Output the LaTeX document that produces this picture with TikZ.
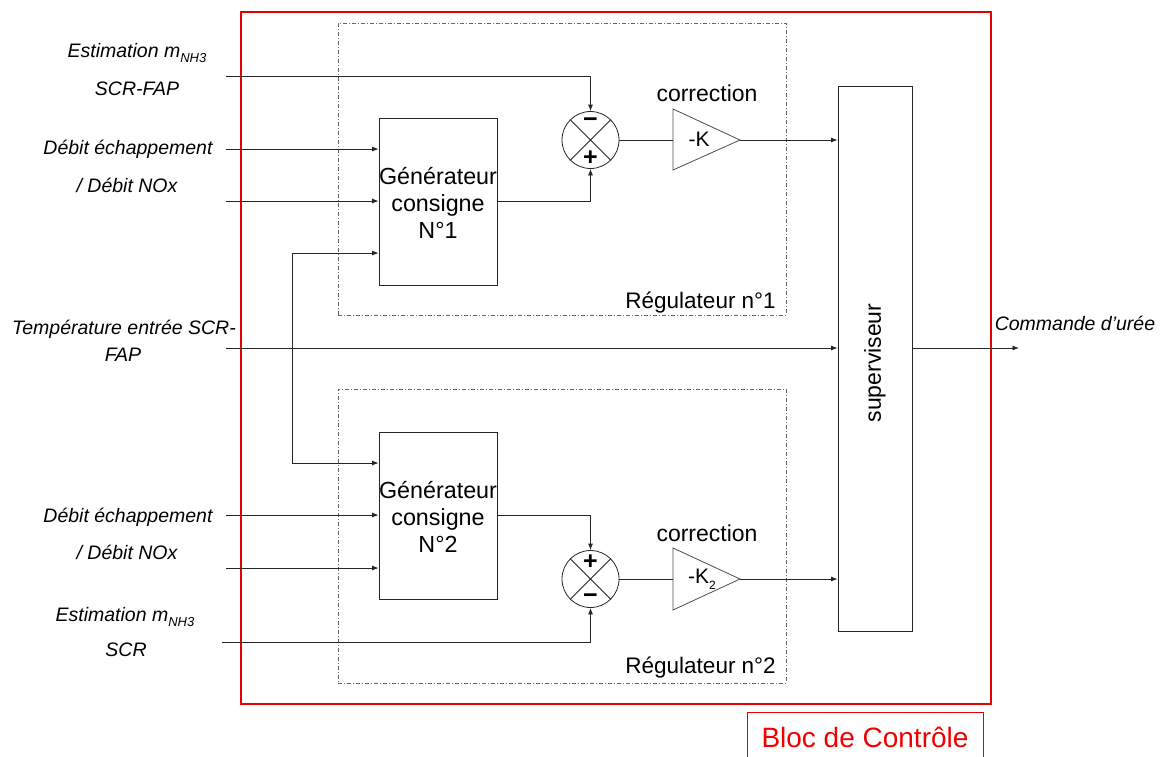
\documentclass[tikz,border=0pt]{standalone}
\usepackage{fontspec}
\setmainfont{Liberation Sans}
\usetikzlibrary{arrows.meta}
\begin{document}
\begin{tikzpicture}[x=1pt,y=-1pt,
  line/.style={draw=black!85,line width=0.8pt},
  arr/.style={line,-{Latex[length=6.5pt,width=5pt]}},
  darr/.style={line,{Latex[length=6.5pt,width=5pt]}-{Latex[length=6.5pt,width=5pt]}},
  blockbox/.style={draw=black!85,line width=0.8pt,inner sep=0pt},
  regbox/.style={draw=black!60,line width=0.7pt,dash pattern=on 4pt off 2pt on 1pt off 2pt},
  lbl/.style={inner sep=0pt,font=\fontsize{19.5}{23}\selectfont\itshape},
  txt/.style={inner sep=0pt,font=\fontsize{23}{27}\selectfont},
  sgn/.style={inner sep=0pt,font=\fontsize{25}{25}\selectfont\bfseries},
  sumj/.style={circle,draw=black!85,line width=0.8pt,minimum size=57pt,inner sep=0pt},
  gain/.style={draw=black!70,line width=0.8pt}
]
\useasboundingbox (0,0) rectangle (1165,756);

% outer control block
\node[draw=red!90!black,line width=1.5pt,minimum width=750pt,minimum height=692pt,inner sep=0pt] (bloc) at (616,358) {};
\node[draw=red!90!black,line width=1.2pt,minimum width=236pt,minimum height=60pt,inner sep=0pt,anchor=north west] (bloclbl) at (747,712) {};
\node[inner sep=0pt,text=red!95!black,font=\fontsize{28}{30}\selectfont] (bloctxt) at (865,737) {Bloc de Contrôle};

% regulator frames
\node[regbox,minimum width=448pt,minimum height=292pt,inner sep=0pt] (reg1) at (562,169) {};
\node[regbox,minimum width=448pt,minimum height=294pt,inner sep=0pt] (reg2) at (562,536) {};
\node[txt,anchor=east,font=\fontsize{22.5}{27}\selectfont] (reg1lbl) at (776,303) {Régulateur n°1};
\node[txt,anchor=east,font=\fontsize{22.5}{27}\selectfont] (reg2lbl) at (776,668) {Régulateur n°2};

% generators
\node[blockbox,minimum width=118pt,minimum height=167pt] (g1) at (438,201.5) {};
\node[txt,align=center,font=\fontsize{23.3}{27}\selectfont] (g1t) at (438,203) {Générateur\\consigne\\N°1};
\node[blockbox,minimum width=118pt,minimum height=167pt] (g2) at (438,515.5) {};
\node[txt,align=center,font=\fontsize{23.3}{27}\selectfont] (g2t) at (438,517) {Générateur\\consigne\\N°2};

% supervisor
\node[blockbox,minimum width=74pt,minimum height=545pt] (sup) at (875,358.5) {};
\node[txt,rotate=90] (supt) at (875,363) {superviseur};

% summing junctions
\node[sumj] (s1) at (590.5,140) {};
\draw[line] (s1.north west) -- (s1.south east) (s1.north east) -- (s1.south west);
\node[sgn] (s1m) at (590.5,123) {−};
\node[sgn] (s1p) at (590.5,158) {+};
\node[sumj] (s2) at (590.5,579) {};
\draw[line] (s2.north west) -- (s2.south east) (s2.north east) -- (s2.south west);
\node[sgn] (s2p) at (590.5,562) {+};
\node[sgn] (s2m) at (590.5,599) {−};

% gains
\coordinate (k1in) at (673,140);
\coordinate (k1out) at (740,140);
\draw[gain] (673,109) -- (740,140) -- (673,170) -- cycle;
\node[txt,font=\fontsize{21}{24}\selectfont] (k1) at (699,139) {-K};
\node[txt] (c1) at (707,93) {correction};
\coordinate (k2in) at (673,579);
\coordinate (k2out) at (740,579);
\draw[gain] (673,548) -- (740,579) -- (673,610) -- cycle;
\node[txt,font=\fontsize{21}{24}\selectfont] (k2) at (702,579) {-K\raisebox{-0.3em}{\fontsize{12}{12}\selectfont 2}};
\node[txt] (c2) at (707,533) {correction};

% input labels
\node[lbl] (e1a) at (137,53) {Estimation m\raisebox{-0.3em}{\fontsize{13}{13}\selectfont NH3}};
\node[lbl] (e1b) at (137,89) {SCR-FAP};
\node[lbl] (d1a) at (128,149) {Débit échappement};
\node[lbl] (d1b) at (127,185) {/ Débit NOx};
\node[lbl] (t1a) at (124,329) {Température entrée SCR-};
\node[lbl] (t1b) at (123,355) {FAP};
\node[lbl] (d2a) at (128,517) {Débit échappement};
\node[lbl] (d2b) at (127,552) {/ Débit NOx};
\node[lbl] (e2a) at (125,617) {Estimation m\raisebox{-0.3em}{\fontsize{13}{13}\selectfont NH3}};
\node[lbl] (e2b) at (126,650) {SCR};
\node[lbl] (cmd) at (1075,323) {Commande d’urée};

% input coordinates
\coordinate (in1) at (226,76);
\coordinate (in2) at (226,149);
\coordinate (in3) at (226,201);
\coordinate (in4) at (226,348);
\coordinate (in5) at (226,515);
\coordinate (in6) at (226,568);
\coordinate (in7) at (222,642);
\coordinate (cr1) at (292,253);
\coordinate (cr2) at (292,463);
\coordinate (out) at (1019,348);

% connectors
\draw[arr] (in1) -| (s1.north);
\draw[arr] (in2) -- (in2 -| g1.west);
\draw[arr] (in3) -- (in3 -| g1.west);
\draw[darr] (cr1 -| g1.west) -- (cr1) -- (cr2) -- (cr2 -| g2.west);
\draw[arr] (in4) -- (in4 -| sup.west);
\draw[arr] (in5) -- (in5 -| g2.west);
\draw[arr] (in6) -- (in6 -| g2.west);
\draw[arr] (in7) -| (s2.south);
\draw[arr] (g1.east) -| (s1.south);
\draw[arr] (g2.east) -| (s2.north);
\draw[line] (s1.east) -- (k1in);
\draw[line] (s2.east) -- (k2in);
\draw[arr] (k1out) -- (k1out -| sup.west);
\draw[arr] (k2out) -- (k2out -| sup.west);
\draw[arr] (sup.east |- out) -- (out);
\end{tikzpicture}
\end{document}
